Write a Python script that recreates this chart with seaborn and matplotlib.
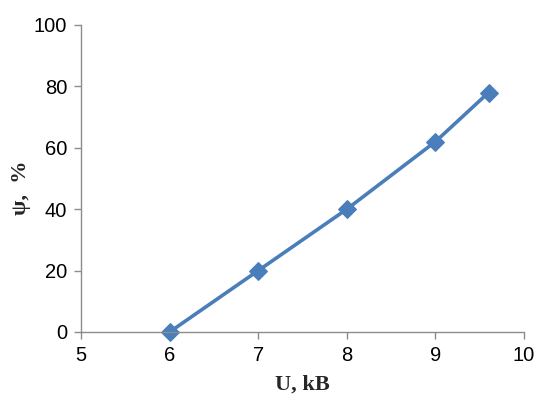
import matplotlib
matplotlib.use("Agg")
import matplotlib.pyplot as plt
import seaborn as sns
import pandas as pd

U_kV = [6, 7, 8, 9, 9.6]
psi = [0, 20, 40, 62, 78]
x_ticks = [5, 6, 7, 8, 9, 10]
y_ticks = [0, 20, 40, 60, 80, 100]

sns.set_style("white")
plt.rcParams['font.family'] = ['Liberation Sans', 'DejaVu Sans']

df = pd.DataFrame({"U": U_kV, "psi": psi})
fig = plt.figure(figsize=(5.38, 4.07), dpi=100)
ax = fig.add_axes([0.1506, 0.1843, 0.8234, 0.7543])
sns.lineplot(data=df, x="U", y="psi", ax=ax, color="#4A7EBB", linewidth=2.6,
             marker="D", markersize=9.5, markeredgecolor="#4A7EBB", clip_on=False)
ax.set_xlim(5, 10)
ax.set_ylim(0, 100)
ax.set_xticks(x_ticks)
ax.set_yticks(y_ticks)
ax.tick_params(axis='both', direction='out', length=5, width=1, color="#8C8C8C",
               labelcolor="black", labelsize=14.5, pad=5, bottom=True, left=True)
for s in ["top", "right"]:
    ax.spines[s].set_visible(False)
for s in ["left", "bottom"]:
    ax.spines[s].set_color("#8C8C8C")
    ax.spines[s].set_linewidth(1)
ax.set_xlabel("U, kB", family=['Liberation Serif'], fontweight='bold', fontsize=16, labelpad=7)
ax.set_ylabel("ψ,  %", family=['Liberation Serif', 'DejaVu Serif'], fontweight='bold', fontsize=16)
ax.yaxis.set_label_coords(-0.113, 0.47)
fig.savefig("out.png", dpi=100)
